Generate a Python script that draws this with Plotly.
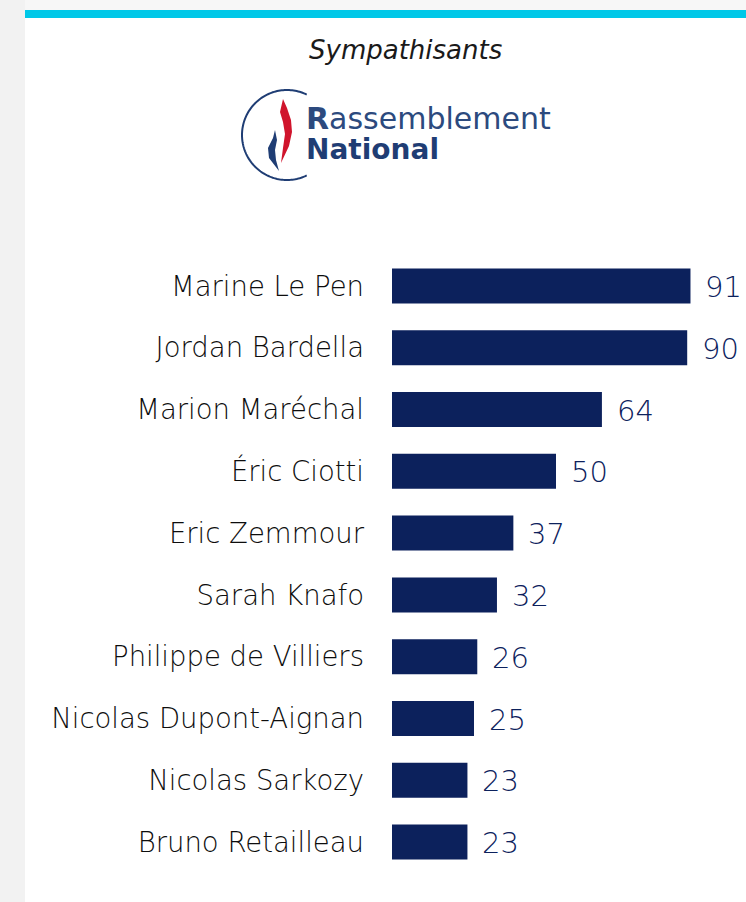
import math
import plotly.graph_objects as go

# ---- data ----
names = ["Marine Le Pen", "Jordan Bardella", "Marion Maréchal", "Éric Ciotti",
         "Eric Zemmour", "Sarah Knafo", "Philippe de Villiers",
         "Nicolas Dupont-Aignan", "Nicolas Sarkozy", "Bruno Retailleau"]
values = [91, 90, 64, 50, 37, 32, 26, 25, 23, 23]
title_text = "Sympathisants"

W, H = 746, 902
ML, MR, MT, MB = 392, 26, 255, 29
PW, PH = W - ML - MR, H - MT - MB

NAVY = "#0C215C"
FONT = "DejaVu Sans"


def px(x, y):
    return (x - ML) / PW, (H - MB - y) / PH


def path(points, close=True):
    s = ""
    for i, (x, y) in enumerate(points):
        X, Y = px(x, y)
        s += ("M" if i == 0 else "L") + f"{X:.5f},{Y:.5f}"
    return s + ("Z" if close else "")


fig = go.Figure()
fig.add_trace(go.Bar(
    x=values, y=names, orientation="h",
    marker=dict(color=NAVY, line=dict(width=0)),
    hoverinfo="skip",
))

annotations = []
for n, v in zip(names, values):
    annotations.append(dict(x=v, y=n, xref="x", yref="y", text=str(v),
                            showarrow=False, xanchor="left", yanchor="middle",
                            xshift=13, yshift=-1,
                            font=dict(family=FONT, size=29, color=NAVY, weight=300)))

# title
tx, ty = px(405, 50)
annotations.append(dict(x=tx, y=ty, xref="paper", yref="paper", text=title_text,
                        showarrow=False, xanchor="center", yanchor="middle",
                        font=dict(family=FONT, size=26, color="#1a1a1a", style="italic",
                                  weight=300)))

# logo text (two lines in one annotation)
LOGO = "#1F3D74"
lx, ly = px(304, 134)
annotations.append(dict(
    x=lx, y=ly, xref="paper", yref="paper", showarrow=False,
    xanchor="left", yanchor="middle", align="left",
    text=('<span style="font-size:30px;color:#2C4A7E"><b>R</b>assemblement</span><br>'
          '<span style="font-size:28px;color:#1F3D74"><b>National</b></span>'),
    font=dict(family=FONT, size=23, color=LOGO)))

shapes = []
# card background & header
x0, y0 = px(0, 0)
x1, y1 = px(W, H)
c0, cy0 = px(25, 10)
shapes.append(dict(type="rect", xref="paper", yref="paper", layer="below",
                   x0=x0, x1=c0, y0=y0, y1=y1, fillcolor="#f2f2f2", line=dict(width=0)))
shapes.append(dict(type="rect", xref="paper", yref="paper", layer="below",
                   x0=c0, x1=x1, y0=cy0, y1=y1, fillcolor="white", line=dict(width=0)))
cb0, cby0 = px(25, 10)
cb1, cby1 = px(W, 18)
shapes.append(dict(type="rect", xref="paper", yref="paper", layer="below",
                   x0=cb0, x1=cb1, y0=cby0, y1=cby1, fillcolor="#00C8E8", line=dict(width=0)))

# logo circle arc (open on the right)
cx, cyc, r = 287, 135, 45
arc = []
for k in range(0, 121):
    a = math.radians(64 + (296 - 64) * k / 120)
    arc.append((cx + r * math.cos(a), cyc - r * math.sin(a)))
shapes.append(dict(type="path", xref="paper", yref="paper", path=path(arc, close=False),
                   line=dict(color=LOGO, width=2)))
# red flame
red = [(283, 99), (287, 108), (291, 120), (292, 132), (289, 146), (281, 163),
       (283, 148), (285, 134), (283, 122), (280, 112)]
shapes.append(dict(type="path", xref="paper", yref="paper", path=path(red),
                   fillcolor="#D0142C", line=dict(width=0)))
# blue flame
blue = [(275, 130), (273, 138), (268, 148), (269, 158), (279, 171),
        (276, 160), (275, 150), (277, 140)]
shapes.append(dict(type="path", xref="paper", yref="paper", path=path(blue),
                   fillcolor=LOGO, line=dict(width=0)))

fig.update_layout(
    width=W, height=H,
    margin=dict(l=ML, r=MR, t=MT, b=MB, pad=0),
    paper_bgcolor="#f7f7f7", plot_bgcolor="rgba(0,0,0,0)",
    bargap=0.434,
    showlegend=False,
    xaxis=dict(range=[0, 100], visible=False, fixedrange=True),
    yaxis=dict(autorange="reversed", showgrid=False, zeroline=False, showline=False,
               ticks="", ticklabelstandoff=27,
               tickfont=dict(family=FONT, size=27.5, color="#0d0d0d", weight=300)),
    annotations=annotations,
    shapes=shapes,
)

fig.write_html("out.html", config={"displayModeBar": False},
               post_script="document.body.style.margin='0';document.body.style.overflow='hidden';")
